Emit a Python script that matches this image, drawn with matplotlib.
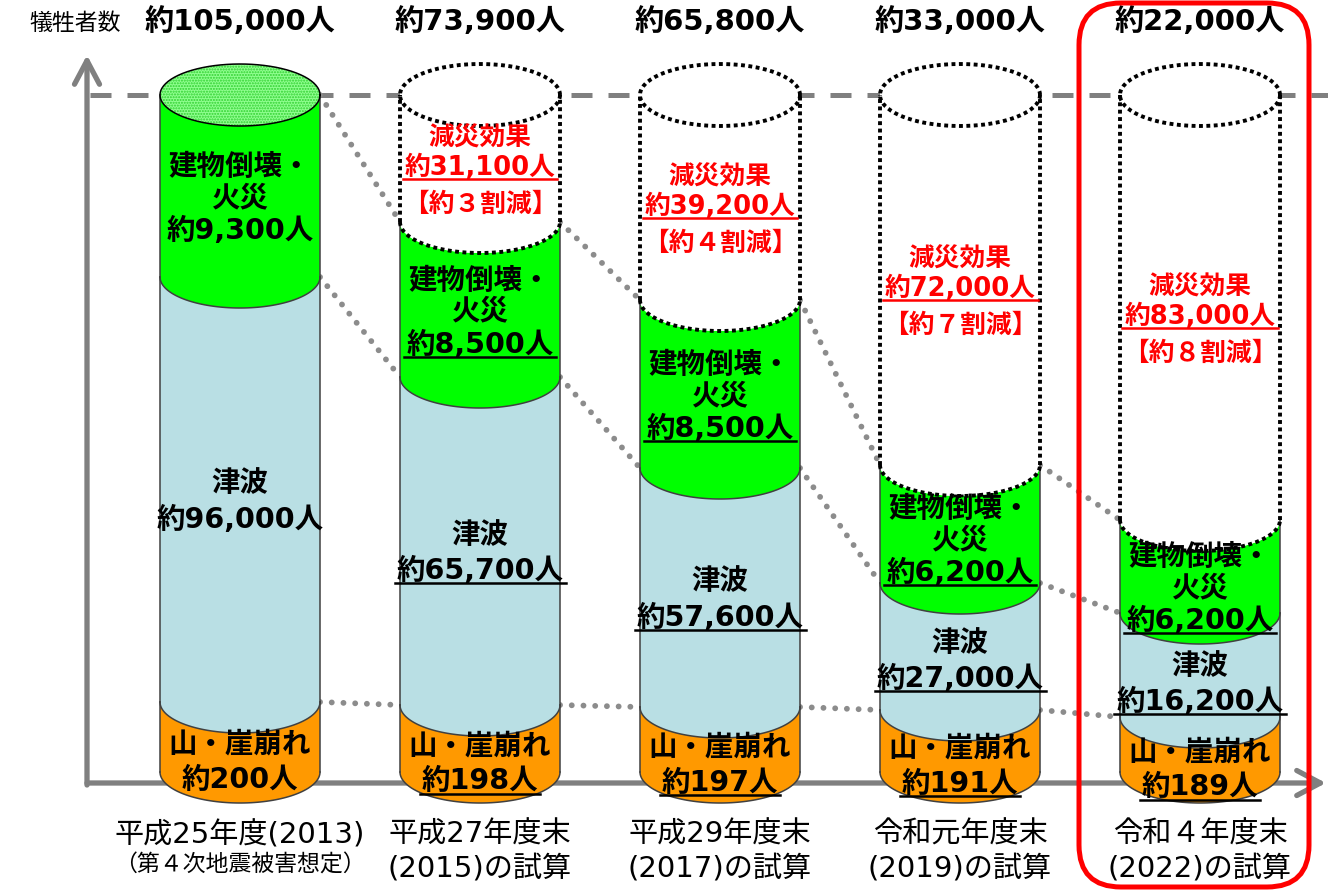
import numpy as np
import matplotlib
matplotlib.use("Agg")
import matplotlib.pyplot as plt
from matplotlib.patches import Polygon, FancyBboxPatch
from matplotlib.lines import Line2D
from matplotlib.transforms import IdentityTransform

# ---------------- data ----------------
period_line1 = ["平成25年度(2013)", "平成27年度末", "平成29年度末", "令和元年度末", "令和４年度末"]
period_line2 = ["（第４次地震被害想定）", "(2015)の試算", "(2017)の試算", "(2019)の試算", "(2022)の試算"]
totals = [105000, 73900, 65800, 33000, 22000]
building_fire = [9300, 8500, 8500, 6200, 6200]
tsunami = [96000, 65700, 57600, 27000, 16200]
landslide = [200, 198, 197, 191, 189]
reduction = [0, 31100, 39200, 72000, 83000]
reduction_tenths = ["", "３", "４", "７", "８"]
# schematic (non-proportional) drawn layer heights of the original illustration
schem_landslide = [70, 67, 65, 62, 55]
schem_tsunami = [425, 328, 239, 127, 104]
schem_building = [182, 155, 168, 118, 93]
schem_reduction = [0, 127, 205, 370, 425]

# ---------------- style ----------------
FONT = ["DejaVu Sans", "Noto Sans CJK JP"]
plt.rcParams["font.family"] = FONT
C_OR = "#FF9900"
C_BL = "#B9DFE4"
C_GR = "#00FF00"
C_TOPGR = "#90FF90"
GRAY = "#808080"
EDGE = "#404040"
SZ_SEG = 20.5
SZ_RED = 18.5

W, H = 1328, 890
fig = plt.figure(figsize=(W / 100, H / 100), dpi=100)
ax = fig.add_axes([0, 0, 1, 1])
ax.set_xlim(-1.0, (W - 240) / 240)
ax.set_ylim(-(H - 772), 772)
ax.axis("off")

a = 80 / 240   # cylinder half width (x units)
b = 31         # ellipse half height (y units)
n = len(totals)
xs_col = np.arange(n)
top_level = schem_landslide[0] + schem_tsunami[0] + schem_building[0] + schem_reduction[0]


def lower_arc(cx, cy, reverse=False, num=80):
    t = np.linspace(np.pi, 2 * np.pi, num)
    x = cx + a * np.cos(t)
    y = cy + b * np.sin(t)
    if reverse:
        return x[::-1], y[::-1]
    return x, y


def full_ellipse(cx, cy, num=160):
    t = np.linspace(0, 2 * np.pi, num)
    return cx + a * np.cos(t), cy + b * np.sin(t)


# ---------------- axes, reference line ----------------
axis_y = -11
yaxis_x = (87 - 240) / 240
arrow_kw = dict(arrowstyle="->,head_length=0.85,head_width=0.45", lw=3.8,
                color=GRAY, mutation_scale=20, shrinkA=0, shrinkB=0)
ax.annotate("", xy=(yaxis_x, 717), xytext=(yaxis_x, axis_y - 2),
            arrowprops=arrow_kw, zorder=1)
ax.annotate("", xy=((1326 - 240) / 240, axis_y), xytext=(yaxis_x, axis_y),
            arrowprops=arrow_kw, zorder=1)
ax.plot([yaxis_x + 0.012, 5], [top_level, top_level], color=GRAY, lw=3.6,
        dashes=(4.2, 3.2), zorder=1, solid_capstyle="butt")

# ---------------- dotted connectors ----------------
lev_bo = np.array(schem_landslide, float)
lev_gb = lev_bo + np.array(schem_tsunami)
lev_top = lev_gb + np.array(schem_building)
for lev in (lev_bo, lev_gb, lev_top):
    for i in range(n - 1):
        ax.plot([xs_col[i] + a, xs_col[i + 1] - a], [lev[i], lev[i + 1]],
                color="#8C8C8C", lw=4.2, dashes=(0.01, 2.0), dash_capstyle="round",
                zorder=2)

# ---------------- cylinders ----------------
label_jobs = []
for i in range(n):
    cx = xs_col[i]
    layers = [(schem_landslide[i], C_OR, "land"), (schem_tsunami[i], C_BL, "tsu"),
              (schem_building[i], C_GR, "bld"), (schem_reduction[i], "white", "red")]
    y0 = 0.0
    for h, col, key in layers:
        if h <= 0:
            continue
        y1 = y0 + h
        xb, yb = lower_arc(cx, y0)
        xt, yt = lower_arc(cx, y1, reverse=True)
        poly = np.column_stack([np.concatenate([xb, xt]), np.concatenate([yb, yt])])
        ax.add_patch(Polygon(poly, closed=True, fc=col, ec="none", zorder=3))
        if key == "red":
            kw = dict(color="black", lw=2.8, dashes=(1.0, 0.9), zorder=4)
        else:
            kw = dict(color=EDGE, lw=1.1, zorder=4)
        ax.plot([cx - a, cx - a], [y0, y1], **kw)
        ax.plot([cx + a, cx + a], [y0, y1], **kw)
        ax.plot(xb, yb, **kw)
        label_jobs.append((i, key, y0, y1))
        y0 = y1
    # top ellipse
    ex, ey = full_ellipse(cx, y0)
    if schem_reduction[i] > 0:
        ax.add_patch(Polygon(np.column_stack([ex, ey]), closed=True, fc="white",
                             ec="none", zorder=3.5))
        ax.plot(ex, ey, color="black", lw=2.8, dashes=(1.0, 0.9), zorder=4.5)
    else:
        ax.add_patch(Polygon(np.column_stack([ex, ey]), closed=True, fc=C_TOPGR,
                             ec="#30D030", hatch="......", lw=0, zorder=3.5))
        ax.plot(ex, ey, color="black", lw=1.1, zorder=4.5)

# ---------------- labels ----------------
underlines = []


def put(x, y, s, size, color="black", weight="bold", underline=False):
    t = ax.text(x, y, s, ha="center", va="center", fontsize=size, color=color,
                fontweight=weight, family=FONT, zorder=6)
    if underline:
        underlines.append((t, color))
    return t


for i, key, y0, y1 in label_jobs:
    cx = xs_col[i]
    h = y1 - y0
    mid = (y0 + y1) / 2
    ul = i > 0
    down = max(12.0, 40.0 - 0.2 * h)
    if key == "land":
        c = mid - 25
        put(cx, c + 17, "山・崖崩れ", SZ_SEG)
        put(cx, c - 18, f"約{landslide[i]:,}人", SZ_SEG, underline=ul)
    elif key == "tsu":
        c = mid - down
        put(cx, c + 18, "津波", SZ_SEG)
        put(cx, c - 18, f"約{tsunami[i]:,}人", SZ_SEG, underline=ul)
    elif key == "bld":
        c = mid - down
        put(cx, c + 31, "建物倒壊・", SZ_SEG)
        put(cx, c, "火災", SZ_SEG)
        put(cx, c - 33, f"約{building_fire[i]:,}人", SZ_SEG, underline=ul)
    elif key == "red":
        c = mid - 9
        put(cx, c + 29, "減災効果", SZ_RED, color="red")
        put(cx, c, f"約{reduction[i]:,}人", SZ_RED, color="red", underline=True)
        put(cx, c - 37, f"【約{reduction_tenths[i]}割減】", SZ_RED, color="red")

for i in range(n):
    put(xs_col[i], 750, f"約{totals[i]:,}人", 21)
    put(xs_col[i], -63, period_line1[i], 21, weight="normal")
    if i == 0:
        put(xs_col[i], -93, period_line2[i], 16.5, weight="normal")
    else:
        put(xs_col[i], -96, period_line2[i], 21, weight="normal")

put((75 - 240) / 240, 749, "犠牲者数", 16.5, weight="normal")

# red frame around the latest estimate
fig.add_artist(FancyBboxPatch((1079, 3), 230, 884,
                              boxstyle="round,pad=0,rounding_size=42",
                              transform=IdentityTransform(), fill=False,
                              ec="#FF0000", lw=3.6, zorder=10))

# underlines
fig.canvas.draw()
rend = fig.canvas.get_renderer()
for t, col in underlines:
    bb = t.get_window_extent(rend)
    fig.add_artist(Line2D([bb.x0 - 2, bb.x1 + 2], [bb.y0 + 2, bb.y0 + 2],
                          transform=IdentityTransform(), color=col, lw=1.8, zorder=7))

fig.savefig("out.png", dpi=100)
